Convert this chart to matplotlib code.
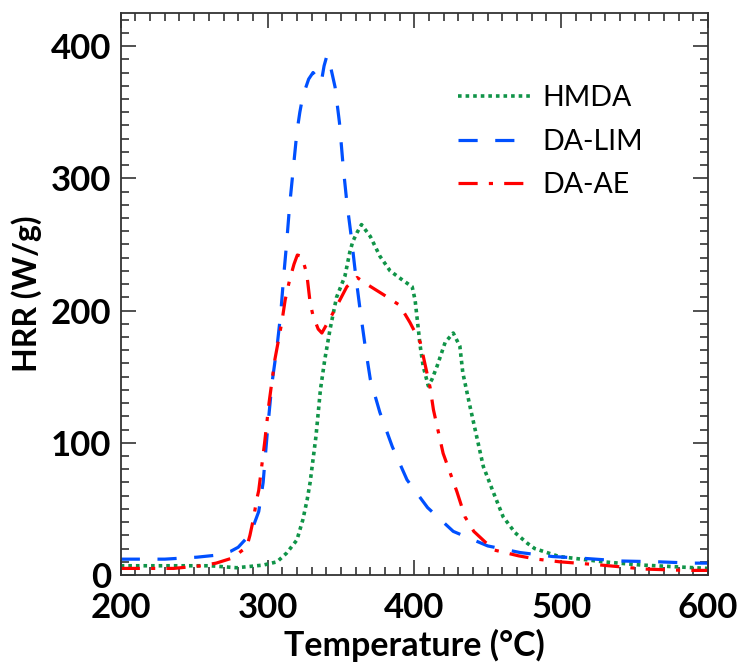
import matplotlib.pyplot as plt
from matplotlib.ticker import MultipleLocator

# HMDA (green dotted)
t_hmda = [200, 261, 279, 297, 306.5, 313, 320, 324, 327, 329, 333, 336, 339, 342.6, 347,
          352.7, 356, 358, 361, 364, 370, 376.6, 383.5, 392, 398.5, 400.5, 402, 404, 406,
          409.5, 412, 415.5, 421, 426.5, 431, 433, 438, 443, 447, 454, 460.5, 468.6, 477,
          482, 498.6, 528.6, 554, 582, 600]
hrr_hmda = [7, 7, 5.5, 7.5, 10, 16.6, 26.5, 41.6, 57, 70, 105, 140, 163, 186, 210,
            226, 244, 252, 259, 265, 256, 241, 230, 223, 218, 208, 193, 173, 158,
            143, 148, 158, 176, 183, 173, 153, 127, 102, 82, 62, 44, 32, 24,
            20, 14, 10, 7.6, 6, 5]

# DA-LIM (blue dashed)
t_lim = [200, 230, 252, 265, 275, 280, 285, 290, 294, 297, 300, 303, 306.5, 309, 311, 313,
         315, 317.5, 320, 322, 324, 328, 331, 334, 336.5, 338.5, 340.5, 343, 346, 349,
         351.5, 354, 357, 360, 363, 366.5, 370, 376.5, 385, 395, 409, 426.5, 450, 472,
         494, 517, 541, 566, 589, 600]
hrr_lim = [12, 12, 13.5, 15, 18, 21, 27, 36, 48, 70, 110, 145, 173, 198, 226, 251,
           279, 307, 335, 350, 362, 375, 380, 376, 372, 385, 393, 384, 369, 342,
           309, 282, 256, 227, 201, 173, 148, 123, 97, 72, 51, 33, 22, 17,
           14, 12.5, 10.6, 10, 9, 9]

# DA-AE (red dash-dot)
t_ae = [200, 236, 255, 265, 276.5, 282, 285.8, 288, 290.3, 292.6, 294, 298, 301, 305,
        309.7, 312, 315, 318, 320.3, 323.3, 326.7, 329, 331, 334.5, 337, 341, 346, 354,
        361, 367.5, 379, 390, 397, 404, 410.7, 413, 419.6, 429, 434.5, 440.5, 454, 471,
        483.5, 499, 526.6, 557, 585, 600]
hrr_ae = [5, 5, 7, 9, 13, 18, 21, 30, 42, 57, 64, 100, 130, 163,
          191, 208, 223, 235, 242, 241, 228, 206, 196, 186, 183, 191, 201, 218,
          225, 220, 212, 204, 191, 176, 142, 125, 92, 63, 44, 33, 19, 14.5,
          12, 10, 7.6, 4.5, 3.5, 3.5]

plt.rcParams['font.family'] = ['Lato', 'DejaVu Sans']

fig = plt.figure(figsize=(7.38, 6.64), dpi=100)
ax = fig.add_axes([0.1636, 0.134, 0.7957, 0.8464])

ax.plot(t_hmda, hrr_hmda, color='#109448', lw=2.6, dashes=(1, 1.1), label='HMDA')
ax.plot(t_lim, hrr_lim, color='#0050ff', lw=2.3, dashes=(6, 5.5), label='DA-LIM')
ax.plot(t_ae, hrr_ae, color='#ff0000', lw=2.3, dashes=(6, 3.5, 1.3, 3.5), label='DA-AE')

ax.set_xlim(200, 600)
ax.set_ylim(0, 425)
ax.xaxis.set_major_locator(MultipleLocator(100))
ax.xaxis.set_minor_locator(MultipleLocator(10))
ax.yaxis.set_major_locator(MultipleLocator(100))
ax.yaxis.set_minor_locator(MultipleLocator(10))
ax.tick_params(which='both', direction='in', top=True, right=True, color='#333333', width=1.2)
ax.tick_params(which='major', length=11, labelsize=25)
ax.tick_params(axis='x', which='major', pad=12)
ax.tick_params(axis='y', which='major', pad=7)
ax.tick_params(which='minor', length=6)
for lab in ax.get_xticklabels() + ax.get_yticklabels():
    lab.set_fontweight('bold')
for s in ax.spines.values():
    s.set_color('#333333')
    s.set_linewidth(1.3)

ax.set_xlabel('Temperature (°C)', fontsize=24.5, fontweight='bold', labelpad=4)
ax.set_ylabel('HRR (W/g)', fontsize=23, fontweight='bold', labelpad=6)

ax.legend(loc='upper left', bbox_to_anchor=(0.575, 0.872), frameon=False, fontsize=20.5,
          handlelength=2.5, handletextpad=0.45, labelspacing=0.62, borderpad=0,
          borderaxespad=0)

fig.savefig('out.png', dpi=100)
